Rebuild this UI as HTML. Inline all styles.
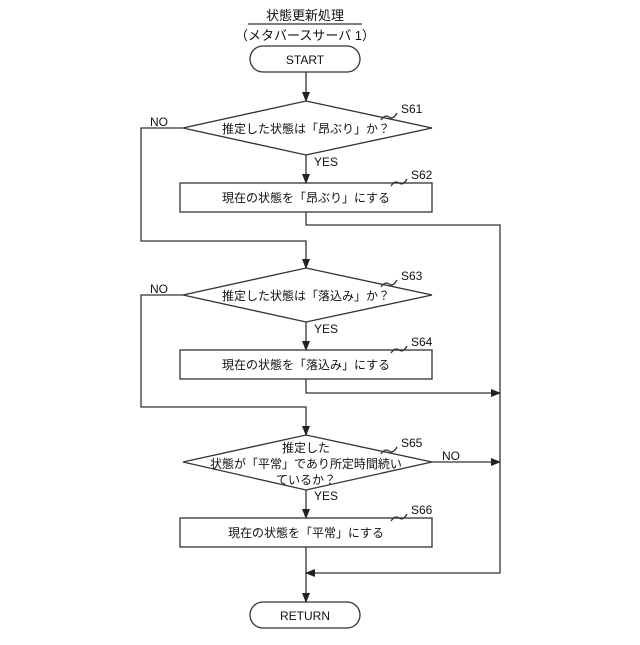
<!DOCTYPE html>
<html><head><meta charset="utf-8"><style>
body{margin:0;background:#fff}
svg text{font-family:"Liberation Sans","Noto Sans CJK JP",sans-serif;fill:#111}
</style></head><body>
<svg width="640" height="640" viewBox="0 0 640 640" xmlns="http://www.w3.org/2000/svg">
<defs><marker id="a" markerWidth="10" markerHeight="10" refX="9" refY="5" orient="auto" markerUnits="userSpaceOnUse"><path d="M0,1 L10,5 L0,9 z" fill="#222"/></marker></defs>
<g stroke="#333" stroke-width="1.3" fill="none">
<line x1="248" y1="24" x2="362" y2="24"/>
<rect x="250" y="46" width="110" height="26" rx="13" fill="#fff"/>
<rect x="250" y="602" width="110" height="26" rx="13" fill="#fff"/>
<polygon points="183,128 306,101 432,128 306,155" fill="#fff"/>
<polygon points="183,295 306,268 432,295 306,322" fill="#fff"/>
<polygon points="183,462 306,435 432,462 306,490" fill="#fff"/>
<rect x="180" y="183" width="252" height="29"/>
<rect x="180" y="350" width="252" height="29"/>
<rect x="180" y="518" width="252" height="29"/>
<line x1="306" y1="72" x2="306" y2="101" marker-end="url(#a)"/>
<line x1="306" y1="155" x2="306" y2="183" marker-end="url(#a)"/>
<line x1="306" y1="322" x2="306" y2="350" marker-end="url(#a)"/>
<line x1="306" y1="490" x2="306" y2="518" marker-end="url(#a)"/>
<polyline points="183,128 141,128 141,241 306,241 306,268" marker-end="url(#a)"/>
<polyline points="183,295 141,295 141,407 306,407 306,435" marker-end="url(#a)"/>
<polyline points="306,212 306,225 500,225 500,573 306,573" marker-end="url(#a)"/>
<polyline points="306,379 306,393 500,393" marker-end="url(#a)"/>
<line x1="432" y1="462" x2="500" y2="462" marker-end="url(#a)"/>
<line x1="306" y1="547" x2="306" y2="602" marker-end="url(#a)"/>
<path d="M381,120 q4,-6 8,-3 q4,3 8,-4"/>
<path d="M391,186 q4,-6 8,-3 q4,3 8,-4"/>
<path d="M381,287 q4,-6 8,-3 q4,3 8,-4"/>
<path d="M391,353 q4,-6 8,-3 q4,3 8,-4"/>
<path d="M381,454 q4,-6 8,-3 q4,3 8,-4"/>
<path d="M391,521 q4,-6 8,-3 q4,3 8,-4"/>
</g>
<g font-size="12">
<text x="305" y="20" text-anchor="middle" font-size="13">状態更新処理</text>
<text x="305" y="40" text-anchor="middle" font-size="13">（メタバースサーバ 1）</text>
<text x="305" y="64" text-anchor="middle">START</text>
<text x="305" y="620" text-anchor="middle">RETURN</text>
<text x="306" y="133" text-anchor="middle">推定した状態は「昂ぶり」か？</text>
<text x="306" y="300" text-anchor="middle">推定した状態は「落込み」か？</text>
<text x="306" y="452" text-anchor="middle">推定した</text>
<text x="306" y="468" text-anchor="middle">状態が「平常」であり所定時間続い</text>
<text x="306" y="484" text-anchor="middle">ているか？</text>
<text x="306" y="202" text-anchor="middle">現在の状態を「昂ぶり」にする</text>
<text x="306" y="369" text-anchor="middle">現在の状態を「落込み」にする</text>
<text x="306" y="537" text-anchor="middle">現在の状態を「平常」にする</text>
<text x="150" y="126">NO</text>
<text x="150" y="293">NO</text>
<text x="442" y="460">NO</text>
<text x="314" y="166">YES</text>
<text x="314" y="333">YES</text>
<text x="314" y="500">YES</text>
<text x="401" y="113">S61</text>
<text x="411" y="179">S62</text>
<text x="401" y="280">S63</text>
<text x="411" y="346">S64</text>
<text x="401" y="447">S65</text>
<text x="411" y="514">S66</text>
</g>
</svg>
</body></html>
